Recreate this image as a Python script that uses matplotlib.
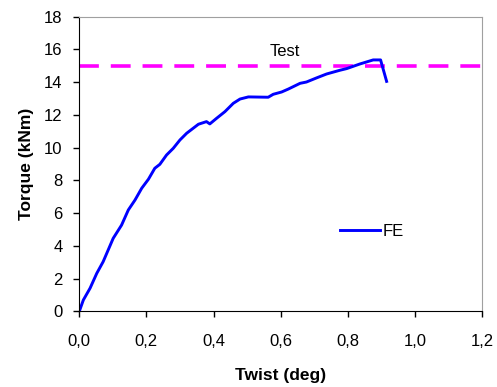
import matplotlib
matplotlib.use('Agg')
import matplotlib.pyplot as plt

plt.rcParams['font.family'] = ['Liberation Sans', 'DejaVu Sans']

# FE torque-twist curve
twist = [0.0, 0.012, 0.032, 0.052, 0.071, 0.101, 0.126, 0.146, 0.166, 0.186,
         0.206, 0.225, 0.240, 0.260, 0.280, 0.300, 0.320, 0.355, 0.379, 0.389,
         0.409, 0.434, 0.459, 0.479, 0.504, 0.563, 0.578, 0.603, 0.623, 0.658,
         0.677, 0.707, 0.737, 0.777, 0.797, 0.836, 0.876, 0.898, 0.916]
torque = [0.0, 0.69, 1.41, 2.32, 3.03, 4.46, 5.27, 6.19, 6.80, 7.52,
          8.07, 8.74, 8.98, 9.55, 9.96, 10.47, 10.88, 11.43, 11.59, 11.45,
          11.79, 12.20, 12.71, 12.97, 13.10, 13.08, 13.26, 13.40, 13.58, 13.93,
          14.01, 14.26, 14.50, 14.73, 14.83, 15.11, 15.36, 15.36, 14.05]
test_torque = 15.0

xticks = [0.0, 0.2, 0.4, 0.6, 0.8, 1.0, 1.2]
yticks = list(range(0, 19, 2))

fig = plt.figure(figsize=(4.97, 3.87), dpi=100)
ax = fig.add_axes([0.1596, 0.1956, 0.8100, 0.7612])

ax.axhline(test_torque, color='#ff00ff', lw=2.6, dashes=(5.5, 3.3))
ax.plot(twist, torque, color='#0000ff', lw=2.1, label='FE')
ax.text(0.613, 15.87, 'Test', ha='center', va='center', fontsize=12)

ax.set_xlim(0, 1.2)
ax.set_ylim(0, 18)
ax.set_xticks(xticks)
ax.set_xticklabels([f'{v:.1f}'.replace('.', ',') for v in xticks])
ax.set_yticks(yticks)
ax.tick_params(direction='out', length=4, width=1, labelsize=12)
ax.tick_params(axis='x', pad=12)
ax.tick_params(axis='y', pad=8)

for s in ['left', 'bottom']:
    ax.spines[s].set_color('black')
for s in ['top', 'right']:
    ax.spines[s].set_color('#a0a0a0')

ax.set_xlabel('Twist (deg)', fontsize=12.5, fontweight='bold', labelpad=14)
ax.set_ylabel('Torque (kNm)', fontsize=12.5, fontweight='bold', labelpad=7)

ax.legend(loc='center left', bbox_to_anchor=(0.647, 0.272), frameon=False,
          fontsize=12, handlelength=2.4, handletextpad=0.2, borderpad=0,
          borderaxespad=0)

fig.savefig('out.png', dpi=100)
